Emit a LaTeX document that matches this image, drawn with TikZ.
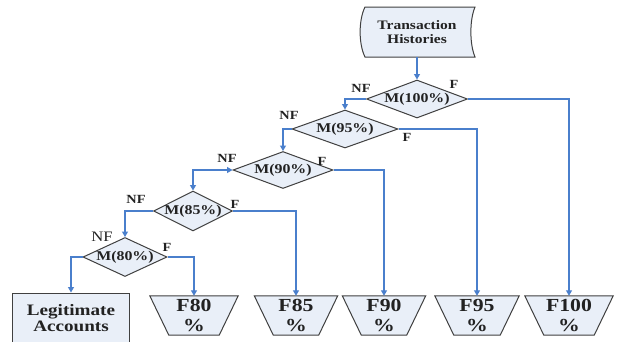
\documentclass[tikz,border=0pt]{standalone}
\usepackage{fontspec}
\setmainfont{Liberation Serif}
\usetikzlibrary{shapes.geometric,arrows.meta,calc}
\definecolor{shapefill}{HTML}{E9EFF8}
\definecolor{edgeline}{HTML}{404040}
\definecolor{flow}{HTML}{4A7FCC}
\definecolor{ink}{HTML}{222222}
\newcommand\OutTrap[4]{% name, x, top width, text
  \path (#2,315.5) node[minimum width=#3bp,minimum height=39bp,inner sep=0pt] (#1) {};
  \draw[box] (#1.north west) -- (#1.north east) -- ($(#1.south east)+(-19,0)$)
    -- ($(#1.south west)+(19,0)$) -- cycle;
  \node[ffont] (#1text) at (#1) {#4};}
\begin{document}
\begin{tikzpicture}[x=1bp,y=-1bp,text=ink,
  box/.style={draw=edgeline,fill=shapefill,line width=1bp},
  dec/.style={box,diamond,inner sep=0pt},
  conn/.style={draw=flow,line width=1.1bp,-{Triangle[length=5.5bp,width=6bp]}},
  mfont/.style={font=\bfseries\fontsize{13.5}{15}\selectfont\addfontfeature{FakeStretch=1.18}},
  ffont/.style={font=\bfseries\fontsize{18.5}{20}\selectfont\addfontfeature{FakeStretch=1.18},align=center,inner sep=0pt},
  lfont/.style={font=\bfseries\fontsize{12.5}{13}\selectfont\addfontfeature{FakeStretch=1.15},inner sep=0pt},
  mlab/.style={label={[mfont,inner sep=0pt]center:{#1}}}
]
\clip (0,0) rectangle (617,341);
\fill[white] (0,0) rectangle (617,341);

% Transaction Histories (stored data shape)
\coordinate (thc) at (417,32);
\draw[box] ($(thc)+(-52,-25)$) -- ($(thc)+(58,-25)$)
  .. controls ($(thc)+(52.5,-12)$) and ($(thc)+(52.5,12)$) .. ($(thc)+(58,25)$)
  -- ($(thc)+(-52,25)$)
  .. controls ($(thc)+(-58.5,12)$) and ($(thc)+(-58.5,-12)$) .. cycle;
\node[minimum width=110bp,minimum height=50bp,inner sep=0pt,align=center,
  font=\bfseries\fontsize{13}{14.5}\selectfont\addfontfeature{FakeStretch=1.2}]
  (th) at (thc) {Transaction\\Histories};

% decision diamonds
\node[dec,minimum width=101bp,minimum height=38bp,mlab={M(100\%)}] (m100) at (417,99) {};
\node[dec,minimum width=106bp,minimum height=38bp,mlab={M(95\%)}] (m95) at (345,129) {};
\node[dec,minimum width=100bp,minimum height=37bp,mlab={M(90\%)}] (m90) at (283,170) {};
\node[dec,minimum width=79bp,minimum height=40bp,mlab={M(85\%)}] (m85) at (193,211) {};
\node[dec,minimum width=84bp,minimum height=39bp,mlab={M(80\%)}] (m80) at (125,257) {};

% outputs
\node[box,minimum width=116bp,minimum height=50bp,inner sep=0pt,align=center,
  font=\bfseries\fontsize{16}{15.5}\selectfont\addfontfeature{FakeStretch=1.2}]
  (legit) at (71,318) {Legitimate\\Accounts};
\OutTrap{f80}{194}{88}{F80\\\%}
\OutTrap{f85}{296}{83}{F85\\\%}
\OutTrap{f90}{384}{83}{F90\\\%}
\OutTrap{f95}{477}{84}{F95\\\%}
\OutTrap{f100}{569}{88}{F100\\\%}

% connectors
\draw[conn] (th.south) -- (m100.north);
\draw[conn] (m100.west) -| (m95.north);
\draw[conn] (m95.west) -| (m90.north);
\draw[conn,{Triangle[length=5.5bp,width=6bp]}-{Triangle[length=5.5bp,width=6bp]}] (m90.west) -| (m85.north);
\draw[conn] (m85.west) -| (m80.north);
\draw[conn] (m80.west) -| (legit.north);
\draw[conn] (m100.east) -| (f100.north);
\draw[conn] (m95.east) -| (f95.north);
\draw[conn] (m90.east) -| (f90.north);
\draw[conn] (m85.east) -| (f85.north);
\draw[conn] (m80.east) -| (f80.north);

% branch labels
\node[lfont] (nf100) at (361,88) {NF};
\node[lfont] (fl100) at (454,84) {F};
\node[lfont] (nf95) at (289,115) {NF};
\node[lfont] (fl95) at (407,137) {F};
\node[lfont] (nf90) at (227,158) {NF};
\node[lfont] (fl90) at (322,161) {F};
\node[lfont] (nf85) at (136,199) {NF};
\node[lfont] (fl85) at (235,204) {F};
\node[inner sep=0pt,font=\fontsize{14.5}{16}\selectfont\addfontfeature{FakeStretch=1.15}] (nf80) at (102,237) {NF};
\node[lfont] (fl80) at (167,247) {F};
\end{tikzpicture}
\end{document}
